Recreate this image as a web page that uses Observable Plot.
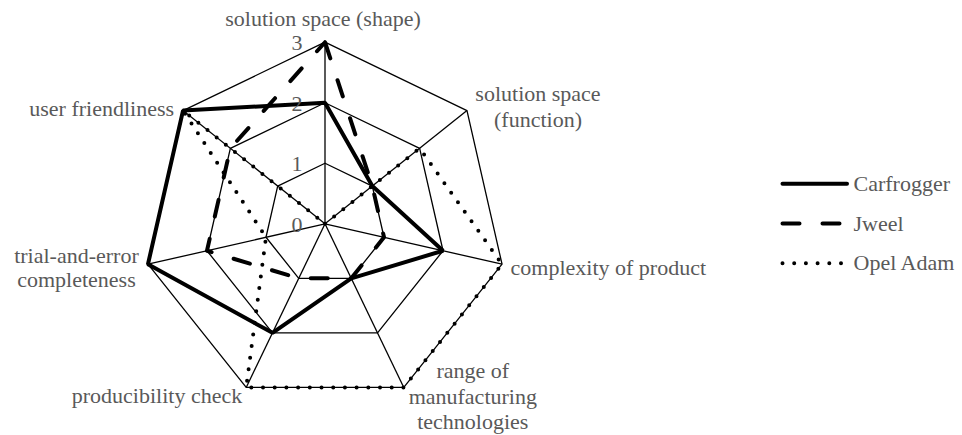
<!DOCTYPE html>
<html>
<head>
<meta charset="utf-8">
<script src="https://cdn.jsdelivr.net/npm/d3@7"></script>
<script src="https://cdn.jsdelivr.net/npm/@observablehq/plot@0.6"></script>
<style>
  html, body { margin: 0; padding: 0; background: #fff; }
  svg { overflow: visible; }
</style>
</head>
<body>
<div id="chart"></div>
<script>
// ---- data ----
const axes = [
  "solution space (shape)",
  "solution space\n(function)",
  "complexity of product",
  "range of\nmanufacturing\ntechnologies",
  "producibility check",
  "trial-and-error\ncompleteness",
  "user friendliness"
];
const seriesNames = ["Carfrogger", "Jweel", "Opel Adam"];
const carfrogger = [2, 1, 2, 1, 2, 3, 3];
const jweel      = [3, 1, 1, 1, 1, 2, 2];
const opelAdam   = [0, 2, 3, 3, 3, 1, 3];
const tickValues = [0, 1, 2, 3];
const maxValue = 3;

// ---- layout ----
const W = 962, H = 435;
const cx = 324.5, cy = 223.3, k = 60.53; // centre and px per unit
const n = axes.length;
const ang = i => 2 * Math.PI * i / n;
const px = (v, i) => v * Math.sin(ang(i));
const py = (v, i) => v * Math.cos(ang(i));

const seriesValues = [carfrogger, jweel, opelAdam];
const seriesStyle = [
  {strokeWidth: 4, strokeDasharray: null, strokeLinecap: "butt", strokeLinejoin: "miter"},
  {strokeWidth: 4, strokeDasharray: "17,23", strokeLinecap: "round", strokeLinejoin: "round"},
  {strokeWidth: 4, strokeDasharray: "0,11.7", strokeLinecap: "round", strokeLinejoin: "round"}
];

// label offsets relative to the outer vertex (px)
const labelLayout = [
  {dx: -2,   dy: -24,  anchor: "middle", lh: 1.14},
  {dx: 71,   dy: -4.6, anchor: "middle", lh: 1.14},
  {dx: 8.5,  dy: 2.5,  anchor: "start",  lh: 1.14},
  {dx: 69,   dy: 8,    anchor: "middle", lh: 1.17},
  {dx: -4,   dy: 7.8,  anchor: "end",    lh: 1.14},
  {dx: -71.5,dy: 3,    anchor: "middle", lh: 1.12},
  {dx: -9,   dy: -3,   anchor: "end",    lh: 1.14}
];

const gray = "#595959";
const font = 22;

// ---- derived tables ----
const ringData = tickValues.filter(v => v > 0).flatMap(v => axes.map((a, i) => ({v, i})));
const axisIdx = axes.map((a, i) => i);
const seriesData = seriesValues.map((vals, s) => vals.map((v, i) => ({s, v, i})));

// legend positions in scale units
const ux = p => (p - cx) / k;
const uy = p => (cy - p) / k;
const legendRows = seriesNames.map((name, s) => ({name, s, y: uy(183.3 + s * 39.7)}));

const marks = [];
// grid rings
marks.push(Plot.line(ringData, {
  x: d => px(d.v, d.i), y: d => py(d.v, d.i), z: "v",
  curve: "linear-closed", stroke: "#000", strokeWidth: 1.3
}));
// spokes
marks.push(Plot.link(axisIdx, {
  x1: () => 0, y1: () => 0, x2: i => px(maxValue, i), y2: i => py(maxValue, i),
  stroke: "#000", strokeWidth: 1.3
}));
// series
seriesData.forEach((data, s) => {
  const st = seriesStyle[s];
  marks.push(Plot.line(data, {
    x: d => px(d.v, d.i), y: d => py(d.v, d.i),
    curve: "linear-closed", stroke: "#000",
    strokeWidth: st.strokeWidth, strokeDasharray: st.strokeDasharray,
    strokeLinecap: st.strokeLinecap, strokeLinejoin: st.strokeLinejoin
  }));
});
// tick labels
marks.push(Plot.text(tickValues, {
  x: () => 0, y: d => d, text: d => String(d),
  textAnchor: "end", lineAnchor: "middle", dx: -22.5, dy: 1,
  fill: gray, fontSize: font
}));
// axis labels
axes.forEach((label, i) => {
  const L = labelLayout[i];
  marks.push(Plot.text([i], {
    x: i => px(maxValue, i), y: i => py(maxValue, i), text: i => axes[i],
    textAnchor: L.anchor, lineAnchor: "middle", lineHeight: L.lh,
    dx: L.dx, dy: L.dy, fill: gray, fontSize: font
  }));
});
// legend
legendRows.forEach(r => {
  const st = seriesStyle[r.s];
  marks.push(Plot.link([r], {
    x1: () => ux(782), x2: () => ux(846.5), y1: d => d.y, y2: d => d.y,
    stroke: "#000", strokeWidth: st.strokeWidth, strokeDasharray: st.strokeDasharray,
    strokeLinecap: "round"
  }));
});
marks.push(Plot.text(legendRows, {
  x: () => ux(853), y: d => d.y, text: "name",
  textAnchor: "start", lineAnchor: "middle", fill: gray, fontSize: font
}));

const chart = Plot.plot({
  width: W, height: H,
  marginTop: 0, marginRight: 0, marginBottom: 0, marginLeft: 0,
  x: {domain: [-maxValue, maxValue], range: [cx - maxValue * k, cx + maxValue * k], axis: null},
  y: {domain: [-maxValue, maxValue], range: [cy + maxValue * k, cy - maxValue * k], axis: null},
  style: {fontFamily: "'Liberation Serif', 'Times New Roman', serif", background: "#fff", overflow: "visible"},
  marks
});
document.getElementById("chart").appendChild(chart);
</script>
</body>
</html>
